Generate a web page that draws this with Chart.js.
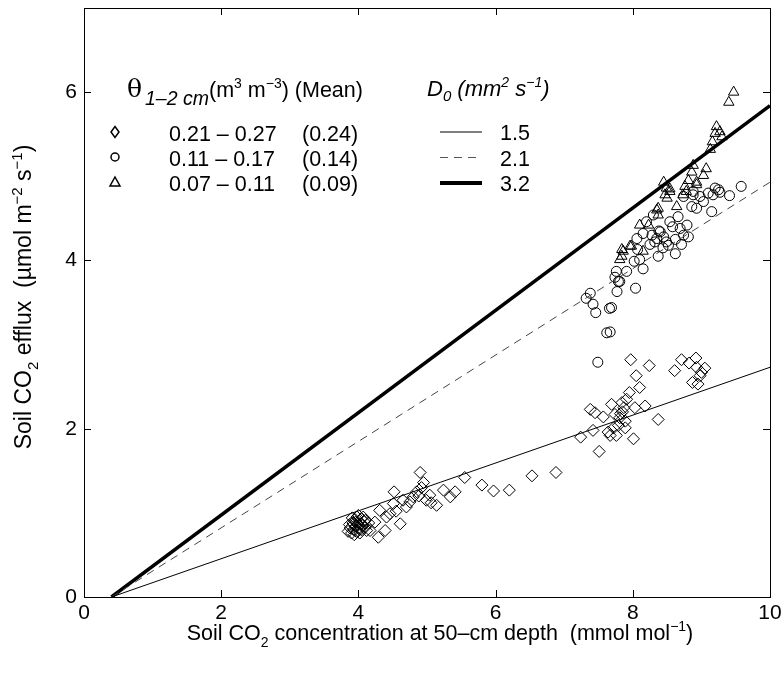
<!DOCTYPE html>
<html>
<head>
<meta charset="utf-8">
<script src="https://cdn.jsdelivr.net/npm/chart.js@4/dist/chart.umd.min.js"></script>
<style>
  html, body { margin: 0; padding: 0; background: #fff; }
  #wrap { width: 784px; height: 675px; }
</style>
</head>
<body>
<div id="wrap"><canvas id="effluxChart" width="784" height="675"></canvas></div>
<script>
// soil moisture classes (theta 1-2 cm)
const diamondX = [3.85, 3.88, 3.90, 3.92, 3.93, 3.95, 3.96, 3.97, 3.98, 3.99, 4.00, 4.01, 4.02, 4.03, 4.04, 4.05, 4.06, 4.08, 3.91, 3.94, 4.00, 4.10, 4.12, 4.15, 3.87, 3.96, 4.02, 4.07,
  4.10, 4.17, 4.24, 4.29, 4.31, 4.39, 4.41, 4.46, 4.51, 4.52, 4.55, 4.61, 4.65, 4.70, 4.75, 4.80, 4.85, 4.88, 4.90, 4.95, 4.92, 4.99, 5.04, 5.06, 5.14, 5.24, 5.34, 5.41, 5.55, 5.80, 5.97, 6.20, 6.53, 6.88,
  7.24, 7.38, 7.42, 7.45, 7.51, 7.57, 7.64, 7.67, 7.69, 7.72, 7.74, 7.76, 7.79, 7.81, 7.84, 7.89, 7.89, 7.91, 7.95, 7.97, 8.01, 8.03, 8.05, 8.10, 8.18, 8.24, 8.37, 8.61, 8.71, 8.82, 8.92, 8.93, 9.05, 9.00, 8.98, 8.87, 8.95, 7.85, 7.87, 7.82];
const diamondY = [0.78, 0.82, 0.76, 0.88, 0.80, 0.92, 0.84, 0.78, 0.95, 0.86, 0.82, 0.90, 0.76, 0.87, 0.93, 0.80, 0.85, 0.90, 0.94, 0.74, 0.97, 0.83, 0.79, 0.88, 0.86, 0.89, 0.80, 0.95,
  0.91, 0.79, 0.89, 0.71, 1.03, 0.79, 0.95, 0.99, 1.11, 1.25, 1.02, 0.87, 1.15, 1.07, 1.13, 1.19, 1.25, 1.20, 1.48, 1.36, 1.30, 1.15, 1.21, 1.12, 1.09, 1.27, 1.19, 1.25, 1.42, 1.33, 1.26, 1.27, 1.44, 1.48,
  1.90, 2.23, 1.98, 2.19, 1.73, 2.14, 1.96, 1.92, 2.29, 2.01, 2.17, 1.92, 2.04, 2.13, 2.31, 2.09, 2.01, 2.35, 2.43, 2.82, 1.88, 2.25, 2.63, 2.49, 2.27, 2.75, 2.11, 2.69, 2.82, 2.78, 2.84, 2.73, 2.72, 2.67, 2.63, 2.55, 2.53, 2.20, 2.25, 2.18];

const circleX = [7.49, 7.62, 7.67, 7.66, 7.69, 7.46, 7.42, 7.38, 7.32, 7.77, 8.04, 7.74, 7.81, 7.79, 7.76, 7.91, 8.15, 8.02, 8.10, 8.37, 8.62, 8.07, 8.44, 8.25, 8.71, 8.49, 8.06, 8.35, 8.81, 8.74, 8.15, 8.40, 8.69, 8.79, 8.20, 8.54, 8.66, 8.30, 9.15, 8.93, 8.86, 9.03, 8.74, 8.98, 9.41, 9.17, 8.88, 9.10, 9.27, 8.88, 9.25, 9.20, 9.58,
  8.28, 8.32, 8.38, 8.45, 8.52, 8.58, 8.62];
const circleY = [2.79, 3.14, 3.15, 3.43, 3.44, 3.38, 3.48, 3.61, 3.55, 3.63, 3.67, 3.80, 3.75, 3.75, 3.87, 3.87, 3.90, 3.99, 4.01, 4.05, 4.08, 4.13, 4.15, 4.19, 4.19, 4.22, 4.26, 4.26, 4.28, 4.30, 4.32, 4.34, 4.38, 4.42, 4.46, 4.46, 4.52, 4.54, 4.58, 4.62, 4.64, 4.70, 4.76, 4.76, 4.77, 4.78, 4.78, 4.80, 4.81, 4.82, 4.84, 4.86, 4.88,
  4.30, 4.22, 4.35, 4.28, 4.18, 4.40, 4.25];

const triangleX = [7.81, 7.84, 7.84, 7.86, 7.96, 7.98, 8.15, 8.10, 8.23, 8.35, 8.37, 8.37, 8.45, 8.47, 8.49, 8.50, 8.54, 8.54, 8.64, 8.73, 8.76, 8.78, 8.81, 8.86, 8.88, 8.93, 8.93, 9.03, 9.07, 9.13, 9.16, 9.20, 9.22, 9.27, 9.30, 9.40, 9.47];
const triangleY = [4.01, 4.05, 4.13, 4.11, 4.17, 4.17, 4.11, 4.42, 4.42, 4.60, 4.54, 4.62, 4.93, 4.78, 4.86, 4.74, 4.82, 4.85, 4.64, 4.78, 4.88, 4.82, 4.95, 5.05, 5.13, 4.90, 4.93, 5.01, 5.09, 5.32, 5.41, 5.51, 5.59, 5.53, 5.47, 5.88, 6.00];

// model lines for three diffusivities D0
const modelX = [0.4, 10];
const line15 = [0, 2.73];
const line21 = [0, 4.93];
const line32 = [0, 5.84];

const xTicks = [0, 2, 4, 6, 8, 10];
const yTicks = [0, 2, 4, 6];

const FONT = '"Liberation Sans", Arial, Helvetica, sans-serif';

function pts(xs, ys) {
    return xs.map((x, i) => ({ x: x, y: ys[i] }));
}

// draw a run of text pieces: [text, font, dy]
function richText(ctx, parts, x, y, align) {
    let total = 0;
    parts.forEach(p => { ctx.font = p[1]; total += ctx.measureText(p[0]).width; });
    let cx = align === 'center' ? x - total / 2 : x;
    ctx.textAlign = 'left';
    ctx.textBaseline = 'alphabetic';
    parts.forEach(p => {
        ctx.font = p[1];
        ctx.fillText(p[0], cx, y + (p[2] || 0));
        cx += ctx.measureText(p[0]).width;
    });
}

const decorations = {
    id: 'decorations',
    afterDraw(chart) {
        const ctx = chart.ctx;
        const a = chart.chartArea;
        const xs = chart.scales.x, ys = chart.scales.y;
        ctx.save();
        ctx.strokeStyle = '#000';
        ctx.fillStyle = '#000';
        ctx.lineWidth = 1;

        // box
        ctx.strokeRect(Math.round(a.left) + 0.5, Math.round(a.top) + 0.5, Math.round(a.right - a.left), Math.round(a.bottom - a.top));

        // inward ticks on all four sides
        const tl = 7;
        ctx.beginPath();
        xTicks.forEach(v => {
            const px = Math.round(xs.getPixelForValue(v)) + 0.5;
            ctx.moveTo(px, a.bottom); ctx.lineTo(px, a.bottom - tl);
            ctx.moveTo(px, a.top); ctx.lineTo(px, a.top + tl);
        });
        yTicks.forEach(v => {
            const py = Math.round(ys.getPixelForValue(v)) + 0.5;
            ctx.moveTo(a.left, py); ctx.lineTo(a.left + tl, py);
            ctx.moveTo(a.right, py); ctx.lineTo(a.right - tl, py);
        });
        ctx.stroke();

        // axis titles
        const f = s => s + 'px ' + FONT;
        richText(ctx, [
            ['Soil CO', f(21.5)], ['2', f(14), 7],
            [' concentration at 50\u2013cm depth  (mmol mol', f(21.5)],
            ['\u22121', f(14), -9], [')', f(21.5)]
        ], 440, 640, 'center');

        ctx.save();
        ctx.translate(31, 297);
        ctx.rotate(-Math.PI / 2);
        richText(ctx, [
            ['Soil CO', f(23)], ['2', f(15), 7],
            [' efflux  (\u00b5mol m', f(23)], ['\u22122', f(15), -9],
            [' s', f(23)], ['\u22121', f(15), -9], [')', f(23)]
        ], 0, 0, 'center');
        ctx.restore();

        // legend: moisture classes
        richText(ctx, [['\u03b8', '25px "DejaVu Serif", serif']], 127, 97);
        richText(ctx, [['1\u20132 cm', 'italic ' + f(19.5)]], 145, 105);
        richText(ctx, [
            ['(m', f(21.5)], ['3', f(14), -9], [' m', f(21.5)], ['\u22123', f(14), -9], [') (Mean)', f(21.5)]
        ], 209, 97);

        const rows = [
            ['0.21 \u2013 0.27', '(0.24)', 'diamond'],
            ['0.11 \u2013 0.17', '(0.14)', 'circle'],
            ['0.07 \u2013 0.11', '(0.09)', 'triangle']
        ];
        rows.forEach((r, i) => {
            const cy = 132 + i * 25;
            ctx.font = f(21.5);
            ctx.fillText(r[0], 169, cy + 9);
            ctx.fillText(r[1], 302, cy + 9);
            ctx.beginPath();
            if (r[2] === 'diamond') {
                ctx.moveTo(115, cy - 5.5); ctx.lineTo(119, cy); ctx.lineTo(115, cy + 5.5); ctx.lineTo(111, cy); ctx.closePath();
            } else if (r[2] === 'circle') {
                ctx.arc(115, cy, 4, 0, Math.PI * 2);
            } else {
                ctx.moveTo(115, cy - 5); ctx.lineTo(120, cy + 4); ctx.lineTo(110, cy + 4); ctx.closePath();
            }
            ctx.lineWidth = 1.5;
            ctx.stroke();
        });

        // legend: D0
        richText(ctx, [
            ['D', 'italic ' + f(22)], ['0', 'italic ' + f(15), 5],
            [' (mm', 'italic ' + f(22)], ['2', 'italic ' + f(14), -9],
            [' s', 'italic ' + f(22)], ['\u22121', 'italic ' + f(14), -9], [')', 'italic ' + f(22)]
        ], 427, 96);
        const dl = [['1.5', 1, []], ['2.1', 1, [8, 6]], ['3.2', 4, []]];
        dl.forEach((d, i) => {
            const cy = 132 + i * 25.5;
            ctx.beginPath();
            ctx.lineWidth = d[1];
            ctx.setLineDash(d[2]);
            ctx.strokeStyle = i === 1 ? '#555' : '#000';
            ctx.moveTo(440, cy); ctx.lineTo(482, cy);
            ctx.stroke();
            ctx.setLineDash([]);
            ctx.font = f(21.5);
            ctx.fillText(d[0], 500, cy + 8);
        });
        ctx.restore();
    }
};

document.addEventListener('DOMContentLoaded', function () {
    const ctx = document.getElementById('effluxChart');

    const lineStyle = (data, width, dash, color) => ({
        type: 'line',
        data: pts(modelX, data),
        borderColor: color,
        borderWidth: width,
        borderDash: dash,
        pointRadius: 0,
        fill: false,
        tension: 0
    });
    const markerStyle = (data, style, r) => ({
        type: 'scatter',
        data: data,
        pointStyle: style,
        pointRadius: r,
        pointBorderWidth: 1,
        pointBorderColor: '#000',
        pointBackgroundColor: 'rgba(0,0,0,0)'
    });

    new Chart(ctx, {
        data: {
            datasets: [
                lineStyle(line15, 1, [], '#000'),
                lineStyle(line21, 1, [8, 6], '#444'),
                lineStyle(line32, 3.5, [], '#000'),
                markerStyle(pts(diamondX, diamondY), 'rectRot', 6),
                markerStyle(pts(circleX, circleY), 'circle', 5),
                markerStyle(pts(triangleX, triangleY), 'triangle', 6)
            ]
        },
        options: {
            responsive: false,
            animation: false,
            layout: { padding: { top: 8, right: 14, left: 0, bottom: 0 } },
            plugins: {
                legend: { display: false },
                tooltip: { enabled: false }
            },
            scales: {
                x: {
                    type: 'linear',
                    min: 0, max: 10,
                    afterBuildTicks: s => { s.ticks = xTicks.map(v => ({ value: v })); },
                    afterFit: s => { s.height = 78; s.paddingLeft = 0; s.paddingRight = 0; },
                    grid: { display: false, drawTicks: false },
                    border: { display: false },
                    ticks: { color: '#000', font: { family: FONT, size: 21 }, padding: 4, maxRotation: 0 }
                },
                y: {
                    type: 'linear',
                    min: 0, max: 7,
                    afterBuildTicks: s => { s.ticks = yTicks.map(v => ({ value: v })); },
                    afterFit: s => { s.width = 84; s.paddingTop = 0; s.paddingBottom = 0; },
                    grid: { display: false, drawTicks: false },
                    border: { display: false },
                    ticks: { color: '#000', font: { family: FONT, size: 21 }, padding: 7 }
                }
            }
        },
        plugins: [decorations]
    });
});
</script>
</body>
</html>
